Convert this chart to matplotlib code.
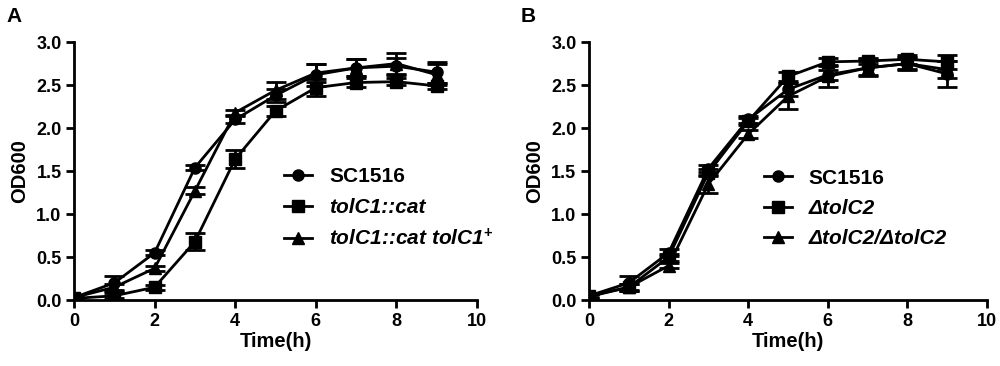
import numpy as np
import matplotlib
matplotlib.use("Agg")
import matplotlib.pyplot as plt
from matplotlib.lines import Line2D

plt.rcParams['font.family'] = ['Liberation Sans', 'DejaVu Sans']
plt.rcParams['font.weight'] = 'bold'
plt.rcParams['mathtext.fontset'] = 'custom'
plt.rcParams['mathtext.it'] = 'Liberation Sans:italic:bold'
plt.rcParams['mathtext.rm'] = 'Liberation Sans:bold'
plt.rcParams['mathtext.bf'] = 'Liberation Sans:bold'

time_h = [0, 1, 2, 3, 4, 5, 6, 7, 8, 9]

# panel A
a_sc1516 = [0.03, 0.20, 0.55, 1.54, 2.10, 2.38, 2.62, 2.70, 2.72, 2.65]
a_sc1516_err = [0.02, 0.08, 0.03, 0.03, 0.04, 0.08, 0.13, 0.10, 0.10, 0.12]
a_cat = [0.02, 0.05, 0.15, 0.68, 1.64, 2.20, 2.47, 2.53, 2.54, 2.49]
a_cat_err = [0.01, 0.03, 0.03, 0.10, 0.10, 0.06, 0.10, 0.05, 0.04, 0.04]
a_comp = [0.03, 0.15, 0.37, 1.27, 2.18, 2.44, 2.64, 2.70, 2.75, 2.62]
a_comp_err = [0.02, 0.04, 0.03, 0.04, 0.03, 0.10, 0.10, 0.10, 0.12, 0.12]

# panel B
b_sc1516 = [0.05, 0.20, 0.55, 1.53, 2.10, 2.45, 2.62, 2.70, 2.75, 2.63]
b_sc1516_err = [0.02, 0.08, 0.04, 0.04, 0.04, 0.08, 0.06, 0.08, 0.06, 0.15]
b_del = [0.05, 0.15, 0.50, 1.48, 2.08, 2.60, 2.77, 2.78, 2.80, 2.77]
b_del_err = [0.02, 0.04, 0.04, 0.04, 0.04, 0.05, 0.04, 0.04, 0.05, 0.08]
b_comp = [0.04, 0.15, 0.40, 1.35, 1.93, 2.37, 2.60, 2.70, 2.75, 2.68]
b_comp_err = [0.02, 0.04, 0.03, 0.10, 0.05, 0.15, 0.12, 0.10, 0.08, 0.10]

labels_a = ["SC1516", "tolC1::cat", "tolC1::cat tolC1$^{\\mathbf{+}}$"]
labels_b = ["SC1516", "\u0394tolC2", "\u0394tolC2/\u0394tolC2"]
italic_a = [False, True, True]
italic_b = [False, True, True]
markers = ["o", "s", "^"]

fig = plt.figure(figsize=(10, 3.66), dpi=100)
ax_a = fig.add_axes([0.074, 0.18, 0.403, 0.705])
ax_b = fig.add_axes([0.589, 0.18, 0.398, 0.705])


def draw(ax, series, errs, labels, italics, letter, leg_x):
    handles = []
    for y, e, m, lab in zip(series, errs, markers, labels):
        ax.errorbar(time_h, y, yerr=e, color="black", marker=m, markersize=8,
                    linewidth=2, elinewidth=2, capsize=7, capthick=2)
        handles.append(Line2D([], [], color="black", marker=m, markersize=8,
                              linewidth=2, label=lab))
    ax.set_xlim(0, 10)
    ax.set_ylim(0, 3.0)
    ax.set_xticks([0, 2, 4, 6, 8, 10])
    ax.set_yticks([0.0, 0.5, 1.0, 1.5, 2.0, 2.5, 3.0])
    ax.set_yticklabels(["0.0", "0.5", "1.0", "1.5", "2.0", "2.5", "3.0"])
    ax.spines["right"].set_visible(False)
    ax.spines["top"].set_visible(False)
    ax.spines["left"].set_linewidth(2)
    ax.spines["bottom"].set_linewidth(2)
    ax.tick_params(width=2, length=6, labelsize=13, pad=3)
    for t in ax.get_xticklabels() + ax.get_yticklabels():
        t.set_fontweight("bold")
    ax.set_xlabel("Time(h)", fontsize=14.5, fontweight="bold", labelpad=2)
    ax.set_ylabel("OD600", fontsize=14.5, fontweight="bold", labelpad=5)
    leg = ax.legend(handles=handles, loc="center left", bbox_to_anchor=(leg_x, 0.355),
                    frameon=False, fontsize=15, handlelength=1.35,
                    handletextpad=0.8, labelspacing=0.55)
    for t, it in zip(leg.get_texts(), italics):
        t.set_fontweight("bold")
        if it:
            t.set_fontstyle("italic")
    fig.text(ax.get_position().x0 - 0.068, 0.955, letter, fontsize=15,
             fontweight="bold", va="center", ha="left")


draw(ax_a, [a_sc1516, a_cat, a_comp], [a_sc1516_err, a_cat_err, a_comp_err],
     labels_a, italic_a, "A", 0.475)
draw(ax_b, [b_sc1516, b_del, b_comp], [b_sc1516_err, b_del_err, b_comp_err],
     labels_b, italic_b, "B", 0.392)

fig.savefig("out.png", dpi=100)
